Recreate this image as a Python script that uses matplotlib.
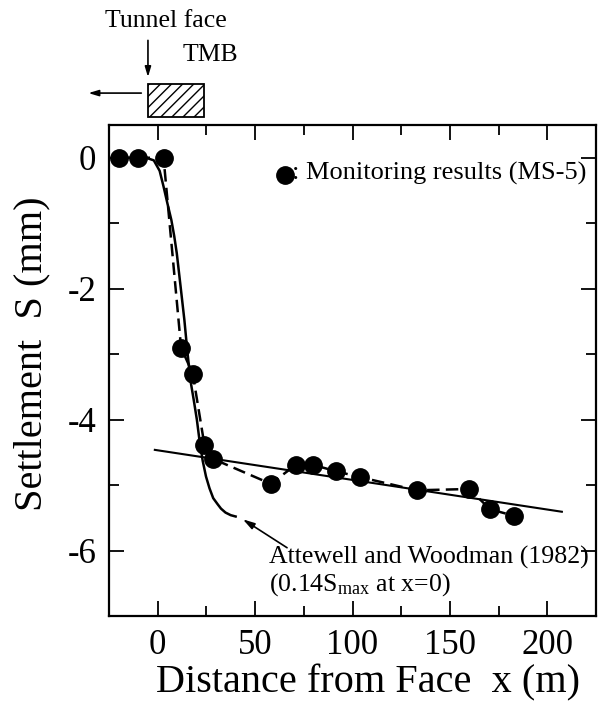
import matplotlib
matplotlib.use("Agg")
import matplotlib.pyplot as plt
from matplotlib.patches import Rectangle
import matplotlib.transforms as mtransforms

plt.rcParams['font.family'] = ['Liberation Serif', 'DejaVu Serif']
plt.rcParams['mathtext.fontset'] = 'custom'
plt.rcParams['mathtext.rm'] = 'Liberation Serif'
plt.rcParams['mathtext.it'] = 'Liberation Serif:italic'

# Monitoring results (MS-5)
mon_x = [-20, -10, 3, 12, 18, 24, 28.4, 58, 71, 79.6, 91.7, 104, 133, 160, 170.6, 183]
mon_y = [0, 0, 0, -2.90, -3.30, -4.39, -4.60, -4.98, -4.69, -4.69, -4.79, -4.88, -5.08, -5.06, -5.37, -5.47]

# Attewell and Woodman (1982) curve
aw_x = [-6, -2, 1, 3, 5, 7, 8.5, 9.8, 11.8, 13.7, 15.2, 16.8, 18.5, 20.1, 21.6, 23.1, 24.8, 26.6, 28.5, 30.7, 32.5, 34.8, 37.5, 40]
aw_y = [0, -0.04, -0.2, -0.44, -0.7, -0.95, -1.2, -1.46, -1.98, -2.48, -2.95, -3.4, -3.7, -4.0, -4.35, -4.63, -4.87, -5.05, -5.2, -5.29, -5.36, -5.42, -5.46, -5.48]

# Linear trend line
fit_x = [-2, 208]
fit_y = [-4.46, -5.41]

x_ticks = [0, 50, 100, 150, 200]
y_ticks = [0, -2, -4, -6]

fig = plt.figure(figsize=(6.05, 7.09), dpi=100)
ax = fig.add_axes([109/605, 1-616/709, 487/605, 491/709])

ax.plot(fit_x, fit_y, color='black', lw=1.5, solid_capstyle='butt')
ax.plot(aw_x, aw_y, color='black', lw=1.8)
ax.plot(mon_x, mon_y, color='black', lw=1.8, ls=(0, (5, 2.5)))
ax.plot(mon_x, mon_y, ls='none', marker='o', ms=12.5, color='black')

ax.set_xlim(-25, 225)
ax.set_ylim(-7, 0.5)
ax.set_xticks(x_ticks)
ax.set_xticks([-25, 25, 75, 125, 175, 225], minor=True)
ax.set_yticks(y_ticks)
ax.set_yticks([-1, -3, -5, -7], minor=True)
ax.set_yticklabels([str(v) for v in y_ticks])
ax.tick_params(which='both', direction='in', top=True, right=True, width=1.3, labelsize=25, pad=9)
ax.tick_params(which='major', length=11)
ax.tick_params(which='minor', length=7)
for s in ax.spines.values():
    s.set_linewidth(1.6)

ax.set_xlabel('Distance from Face  x (m)', fontsize=29)
ax.xaxis.label.set_va('center')
ax.xaxis.set_label_coords(0.532, -0.136)
ax.set_ylabel('Settlement  S (mm)', fontsize=29)
ax.yaxis.label.set_va('center')
ax.yaxis.set_label_coords(-0.158, 0.534)

# Legend-like annotation
ax.plot([65.5], [-0.26], ls='none', marker='o', ms=12.5, color='black')
ax.text(69, -0.24, ': Monitoring results (MS-5)', fontsize=19, va='center', ha='left')

# Attewell annotation
ax.annotate('', xy=(42.5, -5.5), xytext=(67.6, -5.98),
            arrowprops=dict(arrowstyle='-|>,head_length=0.7,head_width=0.2', color='black', lw=1.2))
ax.text(57, -6.1, 'Attewell and Woodman (1982)', fontsize=18.6, va='center', ha='left')
ax.text(57, -6.52, r'(0.14S$_{\rm max}$ at x=0)', fontsize=18.6, va='center', ha='left')

# Tunnel face / TMB sketch above the axes
trans = mtransforms.blended_transform_factory(ax.transData, ax.transAxes)
face_x = -5
rect = Rectangle((face_x, 1.0163), 29, 0.0672, transform=trans, clip_on=False,
                 facecolor='white', edgecolor='black', lw=1.3, hatch='///')
ax.add_patch(rect)
ax.annotate('', xy=(face_x, 1.092), xycoords=trans, xytext=(face_x, 1.178), textcoords=trans,
            arrowprops=dict(arrowstyle='-|>,head_length=0.6,head_width=0.18', color='black', lw=1.2))
ax.annotate('', xy=(face_x - 32, 1.065), xycoords=trans, xytext=(face_x - 2, 1.065), textcoords=trans,
            arrowprops=dict(arrowstyle='-|>,head_length=0.6,head_width=0.18', color='black', lw=1.2))
ax.text(face_x + 9, 1.212, 'Tunnel face', transform=trans, fontsize=18.5, ha='center', va='center')
ax.text(face_x + 32, 1.143, 'TMB', transform=trans, fontsize=18.5, ha='center', va='center')

fig.savefig('out.png', dpi=100)
